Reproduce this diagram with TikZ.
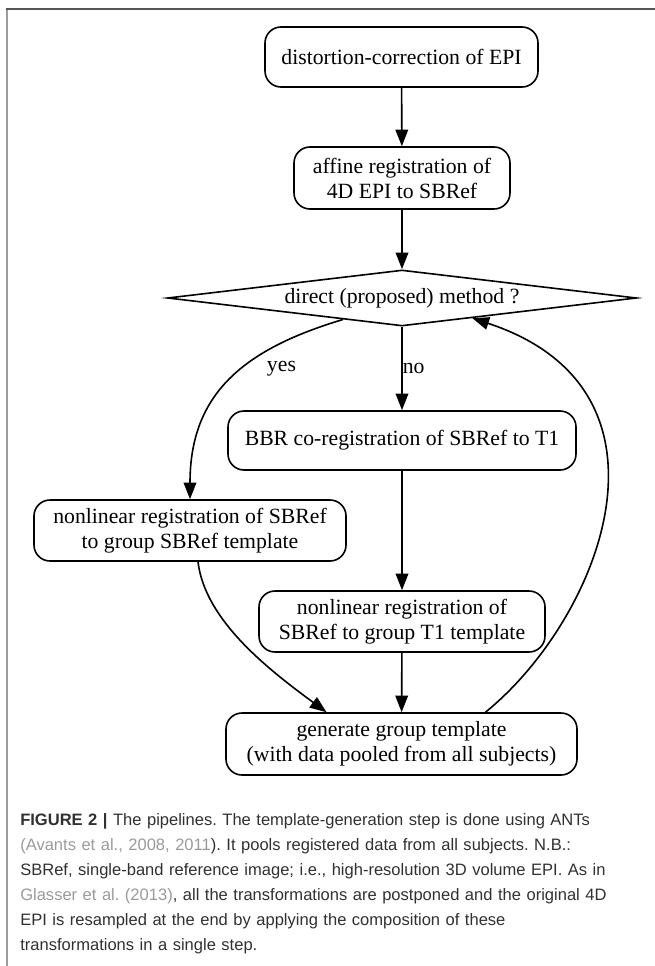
\documentclass[tikz,border=0pt]{standalone}
\usepackage{fontspec}
\setmainfont{Liberation Serif}
\newfontfamily\capfont{Liberation Sans}
\usetikzlibrary{shapes.geometric,arrows.meta,positioning}
\usepackage{xcolor}
\definecolor{citegray}{HTML}{9A9A9A}
\definecolor{captext}{HTML}{303030}
\definecolor{framedark}{HTML}{555555}
\definecolor{framelight}{HTML}{9C9C9C}
\frenchspacing

\begin{document}
\begin{tikzpicture}[x=0.75pt,y=0.75pt]

\tikzset{stepbox/.style={
    draw, rounded corners=12pt, line width=1.2pt,
    align=center, inner sep=0pt,
    font=\fontsize{16.3}{18.75}\selectfont,
    minimum height=#1
  },
  stepbox/.default=45.75pt,
  decide/.style={draw, diamond, aspect=8.4, line width=1.2pt,
    inner sep=0pt, minimum width=351.75pt, minimum height=42pt,
    font=\fontsize{16.3}{18.75}\selectfont},
  flow/.style={-{Triangle[length=12.5pt,width=9.5pt]}, line width=1.2pt},
  branch/.style={font=\fontsize{16.3}{18.75}\selectfont, inner sep=0pt},
  caption/.style={anchor=base west, inner sep=0pt, text width=488pt,
    align=left, text=captext,
    font=\capfont\fontsize{12.4}{18.75}\selectfont}
}

\useasboundingbox (0,0) rectangle (655,-966);
\draw[framelight, line width=1.5pt] (7,-966) -- (7,-9);
\draw[framedark, line width=1.5pt] (6.4,-9) -- (655,-9);

% pipeline steps
\node[stepbox=45pt, minimum width=204.75pt] (distcorr) at (401.5,-57) {distortion-correction of EPI};
\node[stepbox=46.5pt, minimum width=162pt] (affine) at (402,-178) {affine registration of\\ 4D EPI to SBRef};
\node[decide] (method) at (402,-298) {direct (proposed) method ?};
\node[stepbox=44.25pt, minimum width=261pt] (bbr) at (402,-440.5) {BBR co-registration of SBRef to T1};
\node[stepbox, minimum width=234pt] (nlsbref) at (190,-530.5) {nonlinear registration of SBRef\\ to group SBRef template};
\node[stepbox, minimum width=214.5pt] (nlt1) at (402,-621.5) {nonlinear registration of\\ SBRef to group T1 template};
\node[stepbox=46.5pt, minimum width=263.25pt] (gentpl) at (401.5,-744) {generate group template\\ (with data pooled from all subjects)};

% connectors
\draw[flow] (distcorr) -- (affine);
\draw[flow] (affine) -- (method);
\draw[flow] (method) -- node[branch, pos=0.5, anchor=west] {no} (bbr);
\draw[flow] (method.-160) .. controls +(-100,-30) and +(0,105) .. node[branch, pos=0.42, anchor=west, xshift=18pt] {yes} (nlsbref.north);
\draw[flow] (bbr) -- (nlt1);
\draw[flow] (nlt1) -- (gentpl);
\draw[flow] ([shift={(8,0)}]nlsbref.south) .. controls +(7,-59) and +(-57,42) .. ([shift={(-75,0)}]gentpl.north);
\draw[flow] ([shift={(84,0)}]gentpl.north) .. controls +(114.5,93) and +(219,-72) .. (method.-16);

% caption
\node[caption] (cap) at (20,-825) {%
\textbf{FIGURE 2 |} The pipelines. The template-generation step is done using ANTs\\
{\color{citegray}(Avants et al., 2008, 2011}). It pools registered data from all subjects. N.B.:\\
SBRef, single-band reference image; i.e., high-resolution 3D volume EPI. As in\\
{\color{citegray}Glasser et al. (2013)}, all the transformations are postponed and the original 4D\\
EPI is resampled at the end by applying the composition of these\\
transformations in a single step.};

\end{tikzpicture}
\end{document}
